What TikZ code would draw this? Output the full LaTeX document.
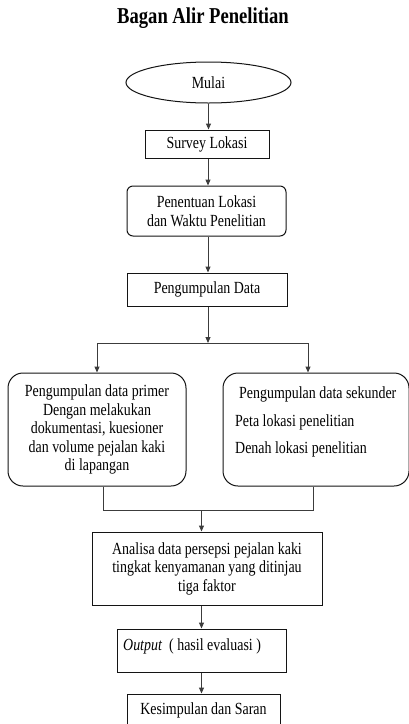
\documentclass[tikz,border=0pt]{standalone}
\usepackage{fontspec}
\setmainfont[FakeStretch=0.82]{Liberation Serif}
\usetikzlibrary{arrows.meta,shapes.geometric}
\definecolor{boxline}{RGB}{20,20,20}
\definecolor{conline}{RGB}{60,60,60}
\tikzset{
  every node/.style={font=\fontsize{17}{18.5}\selectfont, text=black},
  boxnode/.style={draw=boxline, line width=1pt, rectangle, inner sep=0pt, align=center},
  roundnode/.style={boxnode, rounded corners=#1},
  plaintext/.style={anchor=base west, inner sep=0pt},
  conn/.style={draw=conline, line width=1pt},
  arr/.style={conn, -{Triangle[length=6pt,width=5pt]}},
}
\begin{document}
\begin{tikzpicture}[x=1pt,y=-1pt]
\useasboundingbox (0,0) rectangle (409,724);
\clip (0,0) rectangle (409,724);
\node[font=\fontsize{22.7}{24}\selectfont\bfseries] (title) at (203,18) {Bagan Alir Penelitian};
\node[draw=boxline, line width=1pt, ellipse, minimum width=165pt, minimum height=41pt, inner sep=0pt] (mulai) at (208.5,82.5) {Mulai};
\node[boxnode, minimum width=124pt, minimum height=28pt] (survey) at (207,144) {Survey Lokasi};
\node[roundnode=6pt, minimum width=159pt, minimum height=50pt] (tentu) at (206.5,211) {Penentuan Lokasi\\dan Waktu Penelitian};
\node[boxnode, minimum width=160pt, minimum height=33pt] (kumpul) at (207,289.5) {Pengumpulan Data};
\node[roundnode=15pt, minimum width=178pt, minimum height=113pt] (primer) at (97,429.5) {Pengumpulan data primer\\Dengan melakukan\\dokumentasi, kuesioner\\dan volume pejalan kaki\\di lapangan};
\node[roundnode=15pt, minimum width=186pt, minimum height=113pt] (sekunder) at (316,429.5) {};
\node[plaintext] (sek1) at (239,398.5) {Pengumpulan data sekunder};
\node[plaintext] (sek2) at (235,426.5) {Peta lokasi penelitian};
\node[plaintext] (sek3) at (235,453.5) {Denah lokasi penelitian};
\node[boxnode, minimum width=230pt, minimum height=73pt] (analisa) at (207,568.5) {Analisa data persepsi pejalan kaki\\tingkat kenyamanan yang ditinjau\\tiga faktor};
\node[boxnode, minimum width=168.5pt, minimum height=43pt] (output) at (201.75,650.5) {};
\node[plaintext] (outtxt) at (123,650) {\textit{Output}\hspace{7pt}( hasil evaluasi )};
\node[boxnode, minimum width=153pt, minimum height=32pt] (kesimpulan) at (203.5,710) {Kesimpulan dan Saran};
% connectors
\coordinate (split) at (208,343);
\coordinate (sl) at (97,343);
\coordinate (sr) at (308,343);
\coordinate (jl) at (103,510);
\coordinate (jr) at (313,510);
\coordinate (jm) at (201.5,510);
\draw[arr] (mulai.south) -- (mulai.south |- survey.north);
\draw[arr] (survey.south -| split) -- (tentu.north -| split);
\draw[arr] (tentu.south -| split) -- (kumpul.north -| split);
\draw[arr] (kumpul.south -| split) -- (split);
\draw[conn] (sl) -- (sr);
\draw[arr] (sl) -- (primer.north -| sl);
\draw[arr] (sr) -- (sekunder.north -| sr);
\draw[conn] (primer.south -| jl) -- (jl) -- (jr) -- (sekunder.south -| jr);
\draw[arr] (jm) -- (analisa.north -| jm);
\draw[arr] (analisa.south -| jm) -- (output.north -| jm);
\draw[arr] (output.south -| jm) -- (kesimpulan.north -| jm);
\end{tikzpicture}
\end{document}
